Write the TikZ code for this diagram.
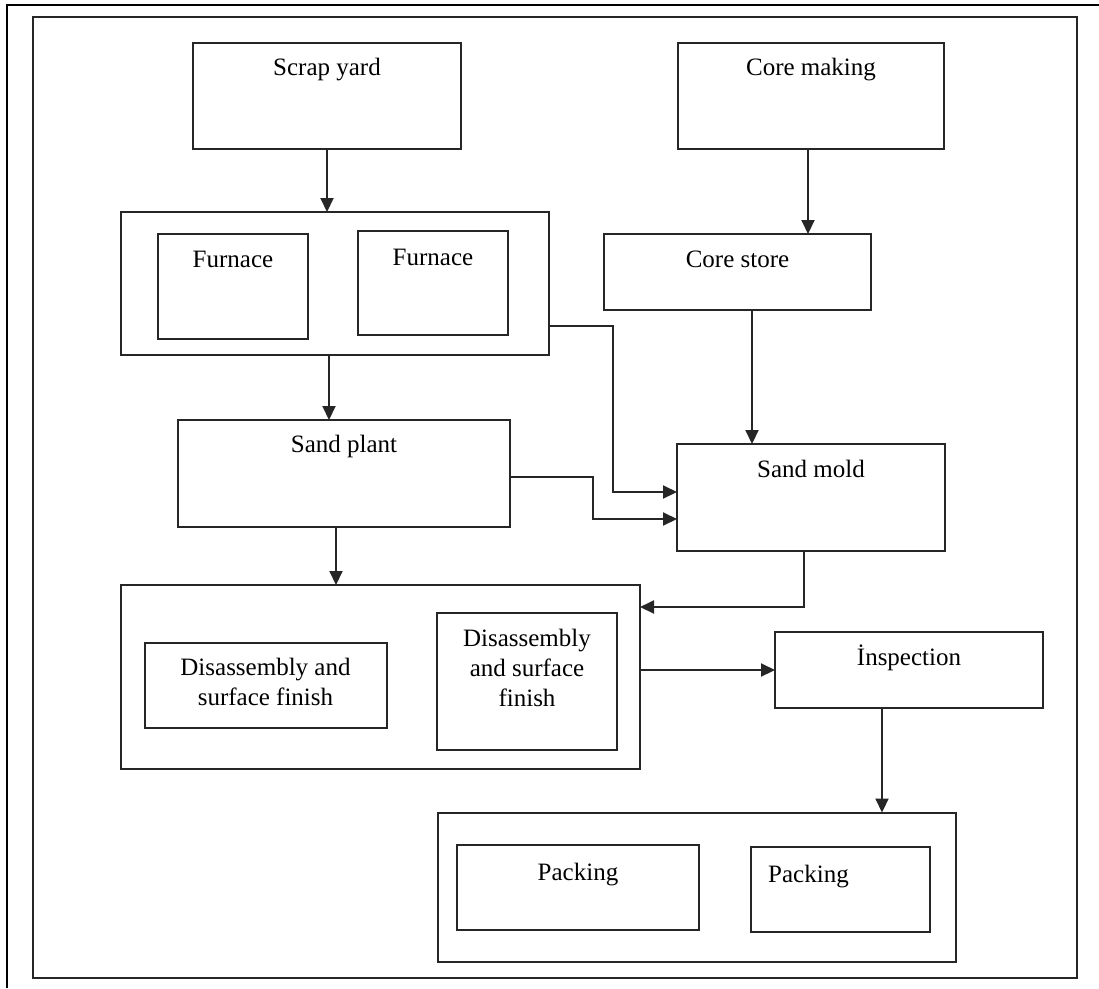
\documentclass[tikz,border=0pt]{standalone}
\usepackage{fontspec}
\setmainfont{Liberation Serif}
\usetikzlibrary{arrows.meta}
\tikzset{
  box/.style={draw=black!85, line width=2pt, inner sep=0pt, outer sep=0pt},
  lbl/.style={font=\fontsize{25}{30}\selectfont, anchor=base, inner sep=0pt},
  conn/.style={draw=black!85, line width=2pt},
  arr/.style={conn, -{Triangle[length=14pt,width=13pt]}},
  page/.style={draw=black, line width=2.2pt}
}
\newcommand\mlines[1]{\begin{tabular}[t]{@{}c@{}}#1\end{tabular}}
\begin{document}
\begin{tikzpicture}[x=1pt,y=-1pt]
\useasboundingbox (0,0) rectangle (1099,988);
% page edges
\coordinate (pgTL) at (7,5);
\coordinate (pgTR) at (1099,5);
\coordinate (pgBL) at (7,988);
\draw[page] (pgTR) -- (pgTL) -- (pgBL);
% inner frame
\node[box, minimum width=1044pt, minimum height=961pt] (frame) at (555,497.5) {};
% boxes
\node[box, minimum width=268pt, minimum height=106pt] (sy) at (327,96) {};
\node[lbl] (syt) at ([yshift=-32pt]sy.north) {Scrap yard};
\node[box, minimum width=266pt, minimum height=106pt] (cm) at (811,96) {};
\node[lbl] (cmt) at ([yshift=-32pt]cm.north) {Core making};
% furnace group
\node[box, minimum width=428pt, minimum height=143pt] (fg) at (335,283.5) {};
\node[box, minimum width=150pt, minimum height=105pt] (f1) at (233,286.5) {};
\node[lbl] (f1t) at ([yshift=-33pt]f1.north) {Furnace};
\node[box, minimum width=150pt, minimum height=104pt] (f2) at (433,283) {};
\node[lbl] (f2t) at ([yshift=-34pt]f2.north) {Furnace};
% core store
\node[box, minimum width=267pt, minimum height=76pt] (cs) at (737.5,272) {};
\node[lbl] (cst) at ([yshift=-33pt]cs.north) {Core store};
% sand plant
\node[box, minimum width=332pt, minimum height=107pt] (sp) at (344,473.5) {};
\node[lbl] (spt) at ([yshift=-32pt]sp.north) {Sand plant};
% sand mold
\node[box, minimum width=268pt, minimum height=107pt] (sm) at (811,497.5) {};
\node[lbl] (smt) at ([yshift=-33pt]sm.north) {Sand mold};
% disassembly group
\node[box, minimum width=519pt, minimum height=184pt] (dg) at (380.5,677) {};
\node[box, minimum width=242pt, minimum height=85pt] (d1) at (265.5,685) {};
\node[lbl] (d1t) at ([yshift=-33pt]d1.north) {\mlines{Disassembly and\\surface finish}};
\node[box, minimum width=180pt, minimum height=137pt] (d2) at (527,681.5) {};
\node[lbl] (d2t) at ([yshift=-33pt]d2.north) {\mlines{Disassembly\\and surface\\finish}};
% inspection
\node[box, minimum width=268pt, minimum height=76pt] (ins) at (909,670) {};
\node[lbl] (inst) at ([yshift=-33pt]ins.north) {İnspection};
% packing group
\node[box, minimum width=518pt, minimum height=149pt] (pg) at (697,887) {};
\node[box, minimum width=242pt, minimum height=85pt] (p1) at (578,887.5) {};
\node[lbl] (p1t) at ([yshift=-35pt]p1.north) {Packing};
\node[box, minimum width=179pt, minimum height=85pt] (p2) at (840.5,889.5) {};
\node[lbl] (p2t) at ([xshift=-32pt,yshift=-35pt]p2.north) {Packing};
% connectors
\draw[arr] (sy.south) -- (sy.south |- fg.north);
\draw[arr] ([xshift=-3pt]cm.south) -- ([xshift=-3pt]cm.south |- cs.north);
\draw[arr] ([xshift=14.5pt]cs.south) -- ([xshift=14.5pt]cs.south |- sm.north);
\coordinate (smin1) at ([yshift=5.5pt]sm.west);
\coordinate (smin2) at ([yshift=-21.5pt]sm.west);
\coordinate (fgout) at ([yshift=-42.5pt]fg.east);
\coordinate (spout) at ([yshift=-3.5pt]sp.east);
\coordinate (j1) at ([xshift=64pt]fg.east);
\coordinate (j2) at ([xshift=83pt]sp.east);
\draw[arr] (fgout) -- (fgout -| j1) -- (j1 |- smin1) -- (smin1);
\draw[arr] (spout) -- (spout -| j2) -- (j2 |- smin2) -- (smin2);
\draw[arr] ([xshift=-6pt]fg.south) -- ([xshift=-6pt]fg.south |- sp.north);
\draw[arr] ([xshift=-8pt]sp.south) -- ([xshift=-8pt]sp.south |- dg.north);
\coordinate (dgin) at ([yshift=70pt]dg.east);
\draw[arr] ([xshift=-7pt]sm.south) -- ([xshift=-7pt]sm.south |- dgin) -- (dgin);
\draw[arr] (ins.west -| dg.east) -- (ins.west);
\draw[arr] ([xshift=-27pt]ins.south) -- ([xshift=-27pt]ins.south |- pg.north);
\end{tikzpicture}
\end{document}
